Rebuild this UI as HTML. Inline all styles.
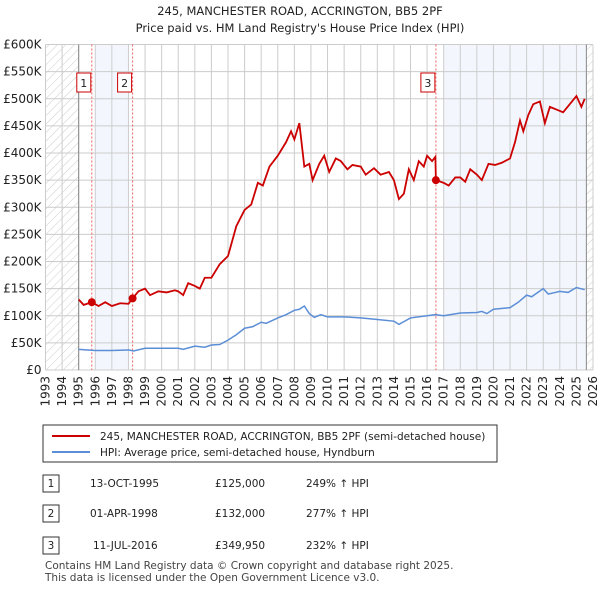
<!DOCTYPE html>
<html><head><meta charset="utf-8"><style>
body{margin:0;background:#fff;font-family:"Liberation Sans","DejaVu Sans",sans-serif;}
svg text{font-family:"DejaVu Sans","Liberation Sans",sans-serif;}
</style></head><body>
<svg id="c" width="600" height="590" xmlns="http://www.w3.org/2000/svg">
<defs><pattern id="h" width="6" height="6" patternUnits="userSpaceOnUse" patternTransform="rotate(45)"><line x1="0" y1="0" x2="0" y2="6" stroke="#ccc" stroke-width="1"/></pattern></defs>
<text x="300" y="15" text-anchor="middle" font-size="11.5" fill="#222">245, MANCHESTER ROAD, ACCRINGTON, BB5 2PF</text>
<text x="300" y="32" text-anchor="middle" font-size="11.5" fill="#222">Price paid vs. HM Land Registry's House Price Index (HPI)</text>
<g id="plot"></g>
<rect x="43" y="425" width="454" height="37" fill="#fff" stroke="#333"/>
<line x1="52" y1="436" x2="90" y2="436" stroke="#cc0000" stroke-width="2"/>
<text x="100" y="440" font-size="10.5" fill="#222">245, MANCHESTER ROAD, ACCRINGTON, BB5 2PF (semi-detached house)</text>
<line x1="52" y1="452" x2="90" y2="452" stroke="#5b8ed6" stroke-width="2"/>
<text x="100" y="456" font-size="10.5" fill="#222">HPI: Average price, semi-detached house, Hyndburn</text>
<g font-size="10.5" fill="#222">
<rect x="43" y="475" width="16" height="17" fill="#fff" stroke="#333"/><text x="51" y="487" text-anchor="middle">1</text>
<text x="90" y="487">13-OCT-1995</text><text x="215" y="487">£125,000</text><text x="306" y="487">249% ↑ HPI</text>
<rect x="43" y="505" width="16" height="17" fill="#fff" stroke="#333"/><text x="51" y="517" text-anchor="middle">2</text>
<text x="90" y="517">01-APR-1998</text><text x="215" y="517">£132,000</text><text x="306" y="517">277% ↑ HPI</text>
<rect x="43" y="537" width="16" height="17" fill="#fff" stroke="#333"/><text x="51" y="549" text-anchor="middle">3</text>
<text x="93" y="549">11-JUL-2016</text><text x="215" y="549">£349,950</text><text x="306" y="549">232% ↑ HPI</text>
</g>
<text x="45" y="569" font-size="10.5" fill="#444">Contains HM Land Registry data © Crown copyright and database right 2025.</text>
<text x="45" y="581" font-size="10.5" fill="#444">This data is licensed under the Open Government Licence v3.0.</text>
</svg>
<script>
const yearTicks=[1993,1994,1995,1996,1997,1998,1999,2000,2001,2002,2003,2004,2005,2006,2007,2008,2009,2010,2011,2012,2013,2014,2015,2016,2017,2018,2019,2020,2021,2022,2023,2024,2025,2026];
const priceTicks=[0,50,100,150,200,250,300,350,400,450,500,550,600];
const priceLabels=["£0","£50K","£100K","£150K","£200K","£250K","£300K","£350K","£400K","£450K","£500K","£550K","£600K"];
const propT=[1995.0,1995.3,1995.79,1996.2,1996.6,1997.0,1997.5,1998.0,1998.25,1998.6,1999.0,1999.3,1999.8,2000.3,2000.8,2001.0,2001.3,2001.6,2002.0,2002.3,2002.6,2003.0,2003.5,2004.0,2004.5,2005.0,2005.4,2005.8,2006.1,2006.5,2007.0,2007.5,2007.8,2008.0,2008.3,2008.6,2008.9,2009.1,2009.5,2009.8,2010.1,2010.5,2010.8,2011.2,2011.5,2012.0,2012.3,2012.8,2013.2,2013.7,2014.0,2014.3,2014.6,2014.9,2015.2,2015.5,2015.8,2016.0,2016.3,2016.5,2016.53,2017.0,2017.3,2017.7,2018.0,2018.3,2018.6,2019.0,2019.3,2019.7,2020.1,2020.5,2021.0,2021.3,2021.6,2021.8,2022.1,2022.4,2022.8,2023.1,2023.4,2023.8,2024.2,2024.6,2025.0,2025.3,2025.5];
const propV=[130,120,125,118,125,118,123,122,132,145,150,138,145,143,147,145,138,160,155,150,170,170,195,210,265,295,305,345,340,375,395,420,440,425,455,375,380,350,380,395,365,390,385,370,378,375,360,372,360,365,350,315,325,370,350,385,375,395,385,393,350,345,340,355,355,347,370,360,350,380,378,382,390,420,460,440,470,490,495,455,485,480,475,490,505,485,500];
const hpiT=[1995,1996,1997,1998,1998.3,1999,2000,2001,2001.3,2002,2002.6,2003,2003.5,2004,2004.5,2005,2005.5,2006,2006.3,2007,2007.5,2008,2008.3,2008.6,2008.9,2009.2,2009.6,2010,2011,2012,2013,2014,2014.3,2015,2016,2016.5,2017,2018,2019,2019.3,2019.6,2020,2021,2021.5,2022,2022.3,2023,2023.3,2024,2024.5,2025,2025.5];
const hpiV=[38,36,36,37,35,40,40,40,38,44,42,46,47,55,65,77,80,88,86,96,102,110,112,118,104,97,102,98,98,96,93,90,84,96,100,102,100,105,106,108,104,112,115,125,138,135,150,140,145,143,152,148];
const saleT=[1995.79,1998.25,2016.53];
const saleV=[125,132,349.95];
const saleLbl=["1","2","3"];
const NS="http://www.w3.org/2000/svg";
const L=45.5,R=593,T=44.5,B=370;
const X=t=>L+(t-1993)*(R-L)/33;
const Y=v=>B-v*(B-T)/600;
const g=document.getElementById('plot');
function mk(tag,at){const e=document.createElementNS(NS,tag);for(const k in at)e.setAttribute(k,at[k]);g.appendChild(e);return e;}
let e;
e=mk('rect',{x:X(1996),y:T,width:X(1998)-X(1996),height:B-T,fill:'#eef3fc',opacity:0.7});


e=mk('rect',{x:X(2017),y:T,width:X(2025.6)-X(2017),height:B-T,fill:'#eef3fc',opacity:0.7});


e=mk('rect',{x:L,y:T,width:X(1995)-L,height:B-T,fill:'url(#h)'});


e=mk('rect',{x:X(2025.6),y:T,width:R-X(2025.6),height:B-T,fill:'url(#h)'});


priceTicks.forEach((v,i)=>{
 e=mk('line',{x1:L,x2:R,y1:Y(v),y2:Y(v),stroke:'#ccc'});
 
 
 e=mk('text',{x:L-4,y:Y(v)+4,'text-anchor':'end','font-size':12,fill:'#222'});e.textContent=priceLabels[i];
 
 
});
yearTicks.forEach(y=>{
 e=mk('line',{x1:X(y),x2:X(y),y1:T,y2:B,stroke:'#ccc'});
 
 
 e=mk('text',{x:0,y:0,'text-anchor':'end','font-size':12,fill:'#222',transform:`translate(${X(y)+4},${B+6}) rotate(-90)`});e.textContent=y;
 
 
});
e=mk('line',{x1:X(1995),x2:X(1995),y1:T,y2:B,stroke:'#888'});


e=mk('line',{x1:X(2025.6),x2:X(2025.6),y1:T,y2:B,stroke:'#888'});


saleT.forEach((t,i)=>{
 e=mk('line',{x1:X(t),x2:X(t),y1:T,y2:B,stroke:'#f06060','stroke-dasharray':'2,2'});
 
 
 e=mk('rect',{x:X(t)-15,y:73,width:14,height:19,fill:'#fff',stroke:'#cc0000'});
 
 
 e=mk('text',{x:X(t)-8,y:87,'text-anchor':'middle','font-size':11,fill:'#222'});e.textContent=saleLbl[i];
 
 
});
e=mk('polyline',{points:hpiT.map((t,i)=>X(t)+','+Y(hpiV[i])).join(' '),fill:'none',stroke:'#5b8ed6','stroke-width':1.5});


e=mk('polyline',{points:propT.map((t,i)=>X(t)+','+Y(propV[i])).join(' '),fill:'none',stroke:'#cc0000','stroke-width':1.8});


saleT.forEach((t,i)=>{
 e=mk('circle',{cx:X(t),cy:Y(saleV[i]),r:4,fill:'#cc0000'});
 
 
});
</script>
</body></html>
